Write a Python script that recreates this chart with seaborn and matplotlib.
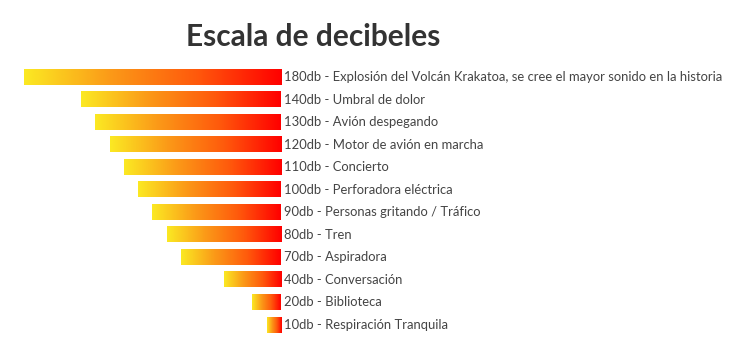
import numpy as np
import pandas as pd
import seaborn as sns
import matplotlib.pyplot as plt
from matplotlib.colors import LinearSegmentedColormap

# data
levels = [180, 140, 130, 120, 110, 100, 90, 80, 70, 40, 20, 10]
sources = [
    "Explosión del Volcán Krakatoa, se cree el mayor sonido en la historia",
    "Umbral de dolor",
    "Avión despegando",
    "Motor de avión en marcha",
    "Concierto",
    "Perforadora eléctrica",
    "Personas gritando / Tráfico",
    "Tren",
    "Aspiradora",
    "Conversación",
    "Biblioteca",
    "Respiración Tranquila",
]
title = "Escala de decibeles"

df = pd.DataFrame({"db": levels, "fuente": sources})
df["label"] = [f"{d}db - {s}" for d, s in zip(df["db"], df["fuente"])]

sns.set_theme(style="white")
plt.rcParams["font.family"] = ["Lato", "DejaVu Sans"]

fig = plt.figure(figsize=(7.42, 3.58), dpi=100)
ax = fig.add_axes([0.0323, 0.0608, 0.3464, 0.7555])

sns.barplot(data=df, x="db", y="label", orient="h", width=0.67,
            color="red", ax=ax)

# gradient fill, yellow on the left to red at zero
cmap = LinearSegmentedColormap.from_list("heat", ["#fbe923", "#fb9a18", "#ff5a0c", "#ff0000"])
grad = np.linspace(0, 1, 256).reshape(1, -1)
for p in ax.patches:
    x0, y0 = p.get_x(), p.get_y()
    w, h = p.get_width(), p.get_height()
    p.set_facecolor("none")
    p.set_edgecolor("none")
    ax.imshow(grad, cmap=cmap, aspect="auto", interpolation="bicubic",
              extent=(x0 + w, x0, y0 + h, y0), zorder=2)

ax.set_xlim(180, 0)
ax.set_ylim(len(df) - 0.5, -0.5)

for i, lab in enumerate(df["label"]):
    ax.annotate(lab, xy=(0, i), xytext=(2.5, 0), textcoords="offset points",
                ha="left", va="center", fontsize=9.4, color="#444444",
                annotation_clip=False)

ax.set_axis_off()

fig.text(0.422, 0.898, title, ha="center", va="center", fontsize=21.5,
         fontweight="bold", color="#333333")

fig.savefig("out.png", dpi=100)
